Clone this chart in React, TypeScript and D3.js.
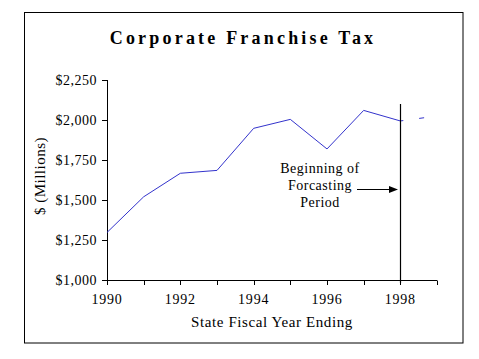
import * as d3 from 'd3';

const years = [1990, 1991, 1992, 1993, 1994, 1995, 1996, 1997, 1998];
const revenue = [1297, 1520, 1667, 1685, 1948, 2004, 1819, 2060, 1994];
const forecastYears = [1998, 1999];
const forecast = [1994, 2025];
const yTicks = [1000, 1250, 1500, 1750, 2000, 2250];
const xLabelYears = [1990, 1992, 1994, 1996, 1998];
const noteLines = ['Beginning of', 'Forcasting', 'Period'];

const W = 479;
const H = 359;
const font = '"Liberation Serif", "Times New Roman", serif';

export default function App() {
  const x = d3.scaleLinear().domain([1990, 1999]).range([107, 437]);
  const y = d3.scaleLinear().domain([1000, 2250]).range([280, 80]);

  const line = d3.line<number>()
    .x((_, i) => x(years[i]))
    .y((d) => y(d));
  const fLine = d3.line<number>()
    .x((_, i) => x(forecastYears[i]))
    .y((d) => y(d));

  const fmt = (v: number) => '$' + d3.format(',')(v);
  const allYears = d3.range(1990, 2000);
  const startX = x(1998);

  return (
    <svg width={W} height={H} style={{ position: 'absolute', left: 0, top: 0 }} fontFamily={font}>
      <rect x={0} y={0} width={W} height={H} fill="#fff" />
      <rect x={24.5} y={12.5} width={438.5} height={330.5} fill="none" stroke="#000" strokeWidth={1} />

      <text x={243} y={44} textAnchor="middle" fontSize={18} fontWeight="bold" letterSpacing={3.2}>
        Corporate Franchise Tax
      </text>

      {/* y axis */}
      <line x1={107.5} x2={107.5} y1={y(2250)} y2={y(1000)} stroke="#000" />
      {yTicks.map((t) => (
        <g key={t}>
          <line x1={102} x2={107.5} y1={Math.round(y(t)) + 0.5} y2={Math.round(y(t)) + 0.5} stroke="#000" />
          <text x={97} y={y(t) + 5} textAnchor="end" fontSize={14} letterSpacing={0.5}>{fmt(t)}</text>
        </g>
      ))}
      <text transform={`translate(45,176) rotate(-90)`} textAnchor="middle" fontSize={15} letterSpacing={0.5}>$ (Millions)</text>

      {/* x axis */}
      <line x1={x(1990)} x2={x(1999)} y1={280.5} y2={280.5} stroke="#000" />
      {allYears.map((yr) => (
        <line key={yr} x1={Math.round(x(yr)) + 0.5} x2={Math.round(x(yr)) + 0.5} y1={280.5} y2={285} stroke="#000" />
      ))}
      {xLabelYears.map((yr) => (
        <text key={yr} x={x(yr)} y={304} textAnchor="middle" fontSize={14} letterSpacing={0.8}>{yr}</text>
      ))}
      <text x={272} y={327} textAnchor="middle" fontSize={15} letterSpacing={0.6}>State Fiscal Year Ending</text>

      {/* data */}
      <path d={line(revenue) ?? ''} fill="none" stroke="#3333cc" strokeWidth={1} />
      <path d={fLine(forecast) ?? ''} fill="none" stroke="#3333cc" strokeWidth={1} strokeDasharray="3 16 5 100" />

      {/* forecast marker */}
      <line x1={Math.round(startX) + 0.5} x2={Math.round(startX) + 0.5} y1={104} y2={283} stroke="#000" strokeWidth={1.2} />
      {noteLines.map((s, i) => (
        <text key={s} x={320} y={173 + i * 17} textAnchor="middle" fontSize={14} letterSpacing={0.5}>{s}</text>
      ))}
      <line x1={357} x2={390} y1={189.5} y2={189.5} stroke="#000" />
      <path d="M398,189.5 L389,186 L389,193 Z" fill="#000" />
    </svg>
  );
}
